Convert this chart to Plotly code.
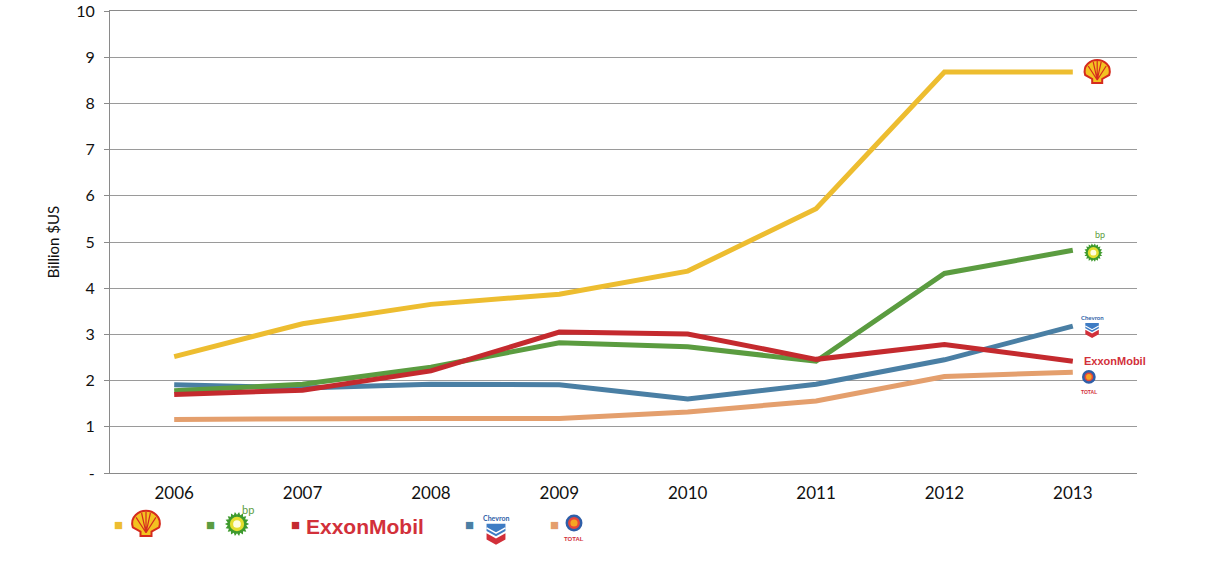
import math
import plotly.graph_objects as go

# values (billion $US)
years = ["2006", "2007", "2008", "2009", "2010", "2011", "2012", "2013"]
shell = [2.52, 3.23, 3.65, 3.87, 4.37, 5.72, 8.68, 8.68]
bp = [1.78, 1.92, 2.29, 2.82, 2.73, 2.42, 4.32, 4.82]
exxon = [1.70, 1.79, 2.21, 3.05, 3.01, 2.46, 2.78, 2.42]
chevron = [1.91, 1.84, 1.92, 1.91, 1.60, 1.92, 2.45, 3.18]
total = [1.16, 1.18, 1.18, 1.18, 1.32, 1.56, 2.09, 2.18]

ytick_vals = [0, 1, 2, 3, 4, 5, 6, 7, 8, 9, 10]
ytick_text = ["-", "1", "2", "3", "4", "5", "6", "7", "8", "9", "10"]

names = ["Shell", "BP", "ExxonMobil", "Chevron", "Total"]
colors = ["#EDBD30", "#5B9C40", "#C42A2E", "#4A7FA4", "#E49F6D"]
series = [shell, bp, exxon, chevron, total]

FONT = "Lato"

fig = go.Figure()
# draw order: total at back, shell on top
for i in [4, 3, 1, 2, 0]:
    fig.add_trace(go.Scatter(x=years, y=series[i], name=names[i], mode="lines",
                             line=dict(color=colors[i], width=5)))

shapes = []
annots = []

def shell_logo(xref, yref, xa, ya, s=1.0):
    out = "M %f,%f C %f,%f %f,%f 0,%f C %f,%f %f,%f %f,%f L %f,%f L %f,%f L %f,%f L %f,%f Z" % (
        -12*s, -3*s, -15*s, 7*s, -6*s, 12*s, 12*s, 6*s, 12*s, 15*s, 7*s, 12*s, -3*s,
        5*s, -7*s, 5*s, -11*s, -5*s, -11*s, -5*s, -7*s)
    ribs = ""
    for px, py in [(-9, 6), (-4, 10), (0, 11), (4, 10), (9, 6)]:
        ribs += "M 0,%f L %f,%f " % (-8*s, px*s, py*s)
    base = dict(type="path", xref=xref, yref=yref, xsizemode="pixel", ysizemode="pixel",
                xanchor=xa, yanchor=ya, layer="above")
    shapes.append(dict(base, path=out, fillcolor="#F3C221", line=dict(color="#D52B1E", width=2)))
    shapes.append(dict(base, path=ribs, line=dict(color="#D52B1E", width=1.2)))

def bp_logo(xref, yref, xa, ya, s=1.0):
    # sunburst outline
    pts = []
    for k in range(36):
        r = (11 if k % 2 == 0 else 8.5) * s
        a = math.pi * 2 * k / 36
        pts.append("%s %.2f,%.2f" % ("M" if k == 0 else "L", r * math.cos(a), r * math.sin(a)))
    star = " ".join(pts) + " Z"
    shapes.append(dict(type="path", xref=xref, yref=yref, xsizemode="pixel", ysizemode="pixel",
                       xanchor=xa, yanchor=ya, layer="above", path=star,
                       fillcolor="#3E9A2E", line=dict(width=0)))
    base = dict(type="circle", xref=xref, yref=yref, xsizemode="pixel", ysizemode="pixel",
                xanchor=xa, yanchor=ya, layer="above")
    shapes.append(dict(base, x0=-6.5*s, x1=6.5*s, y0=-6.5*s, y1=6.5*s, fillcolor="#E4DE2E",
                       line=dict(width=0)))
    shapes.append(dict(base, x0=-3.5*s, x1=3.5*s, y0=-3.5*s, y1=3.5*s, fillcolor="#FFFDE0",
                       line=dict(width=0)))

def chevron_logo(xref, yref, xa, ya, s=1.0):
    base = dict(type="path", xref=xref, yref=yref, xsizemode="pixel", ysizemode="pixel",
                xanchor=xa, yanchor=ya, layer="above")
    blue = "M %f,%f L %f,%f L %f,%f L 0,%f L %f,%f Z" % (
        -9*s, 6*s, 9*s, 6*s, 9*s, -1*s, -6*s, -9*s, -1*s)
    white = "M %f,%f L 0,%f L %f,%f" % (-9*s, 2*s, -3*s, 9*s, 2*s)
    red = "M %f,%f L 0,%f L %f,%f L %f,%f L 0,%f L %f,%f Z" % (
        -9*s, -3*s, -8*s, 9*s, -3*s, 9*s, -9*s, -14*s, -9*s, -9*s)
    shapes.append(dict(base, path=blue, fillcolor="#3E7CC4", line=dict(width=0)))
    shapes.append(dict(base, path=white, line=dict(color="white", width=1.5 * s)))
    shapes.append(dict(base, path=red, fillcolor="#D2303A", line=dict(width=0)))

def total_logo(xref, yref, xa, ya, s=1.0):
    base = dict(type="circle", xref=xref, yref=yref, xsizemode="pixel", ysizemode="pixel",
                xanchor=xa, yanchor=ya, layer="above")
    shapes.append(dict(base, x0=-8*s, x1=8*s, y0=-8*s, y1=8*s, fillcolor="#E8463A",
                       line=dict(color="#2F5FA8", width=2.5)))
    shapes.append(dict(base, x0=-4*s, x1=4*s, y0=-4*s, y1=4*s, fillcolor="#F6A623",
                       line=dict(width=0)))

# logos at the end of each line
last = len(years) - 1
shell_logo("x", "y", last + 0.19, shell[-1], 1.0)
bp_logo("x", "y", last + 0.16, bp[-1] - 0.05, 0.85)
annots.append(dict(x=last, y=bp[-1], xref="x", yref="y", xshift=27, yshift=16,
                   text="bp", showarrow=False, font=dict(family=FONT, size=9, color="#5B9C40")))
chevron_logo("x", "y", last + 0.15, chevron[-1] - 0.03, 0.75)
annots.append(dict(x=last, y=chevron[-1], xref="x", yref="y", xshift=20, yshift=9,
                   text="<b>Chevron</b>", showarrow=False,
                   font=dict(family=FONT, size=6, color="#2F5FA8")))
annots.append(dict(x=last, y=exxon[-1], xref="x", yref="y", xshift=9, xanchor="left",
                   text="<b>ExxonMobil</b>", showarrow=False,
                   font=dict(family="Liberation Sans", size=11, color="#D2303A")))
total_logo("x", "y", last + 0.125, total[-1] - 0.1, 0.7)
annots.append(dict(x=last, y=total[-1], xref="x", yref="y", xshift=16, yshift=-20,
                   text="<b>TOTAL</b>", showarrow=False,
                   font=dict(family="Liberation Sans", size=5, color="#D2303A")))

# custom legend under the axis (paper coordinates, from pixel positions in the plot)
def px_x(p):
    return (p - 110) / 1027.0

def px_y(p):
    return (473 - p) / 462.0

def leg_text(x, y, text, font, xanchor="center"):
    annots.append(dict(x=px_x(x), y=px_y(y), xref="paper", yref="paper", text=text,
                       showarrow=False, xanchor=xanchor, yanchor="middle", font=font))

leg_y = 524
square_x = [118, 210, 295, 469, 554]
for i in range(5):
    leg_text(square_x[i], leg_y, "■", dict(size=15, color=colors[i]))
shell_logo("paper", "paper", px_x(146), px_y(leg_y), 1.1)
bp_logo("paper", "paper", px_x(237), px_y(leg_y), 1.1)
leg_text(248, 509, "bp", dict(family=FONT, size=11, color="#5B9C40"))
leg_text(304, 526, "<b>ExxonMobil</b>", dict(family="Liberation Sans", size=21, color="#D2303A"),
         xanchor="left")
chevron_logo("paper", "paper", px_x(496), px_y(530), 1.05)
leg_text(496, 518, "<b>Chevron</b>", dict(family=FONT, size=7, color="#2F5FA8"))
total_logo("paper", "paper", px_x(574), px_y(523), 0.9)
leg_text(574, 539, "<b>TOTAL</b>", dict(family="Liberation Sans", size=6, color="#D2303A"))

fig.update_layout(
    width=1210, height=571,
    margin=dict(l=110, r=73, t=11, b=98),
    plot_bgcolor="white", paper_bgcolor="white",
    showlegend=False,
    font=dict(family=FONT, size=16, color="#111111"),
    shapes=shapes,
    annotations=annots,
)
# mirror draws the top border where the "10" gridline sits
fig.update_xaxes(type="category", range=[-0.5, 7.5], showgrid=False, automargin=False,
                 showline=True, linecolor="#8a8a8a", linewidth=1, mirror=True,
                 ticks="", ticklabelstandoff=5, tickfont=dict(size=17))
fig.update_yaxes(range=[0, 10], tickvals=ytick_vals, ticktext=ytick_text, automargin=False,
                 showgrid=True, gridcolor="#9a9a9a", gridwidth=1, zeroline=False,
                 showline=True, linecolor="#8a8a8a", linewidth=1,
                 ticks="outside", ticklen=5, tickcolor="#8a8a8a", ticklabelstandoff=6,
                 ticklabeloverflow="allow", tickfont=dict(size=16),
                 title=dict(text="Billion $US", font=dict(size=15), standoff=12))

# drop the default 8px body margin so the figure sits at the window's corner
fig.write_html("out.html", config={"displayModeBar": False},
               post_script="document.body.style.margin = '0px';")
